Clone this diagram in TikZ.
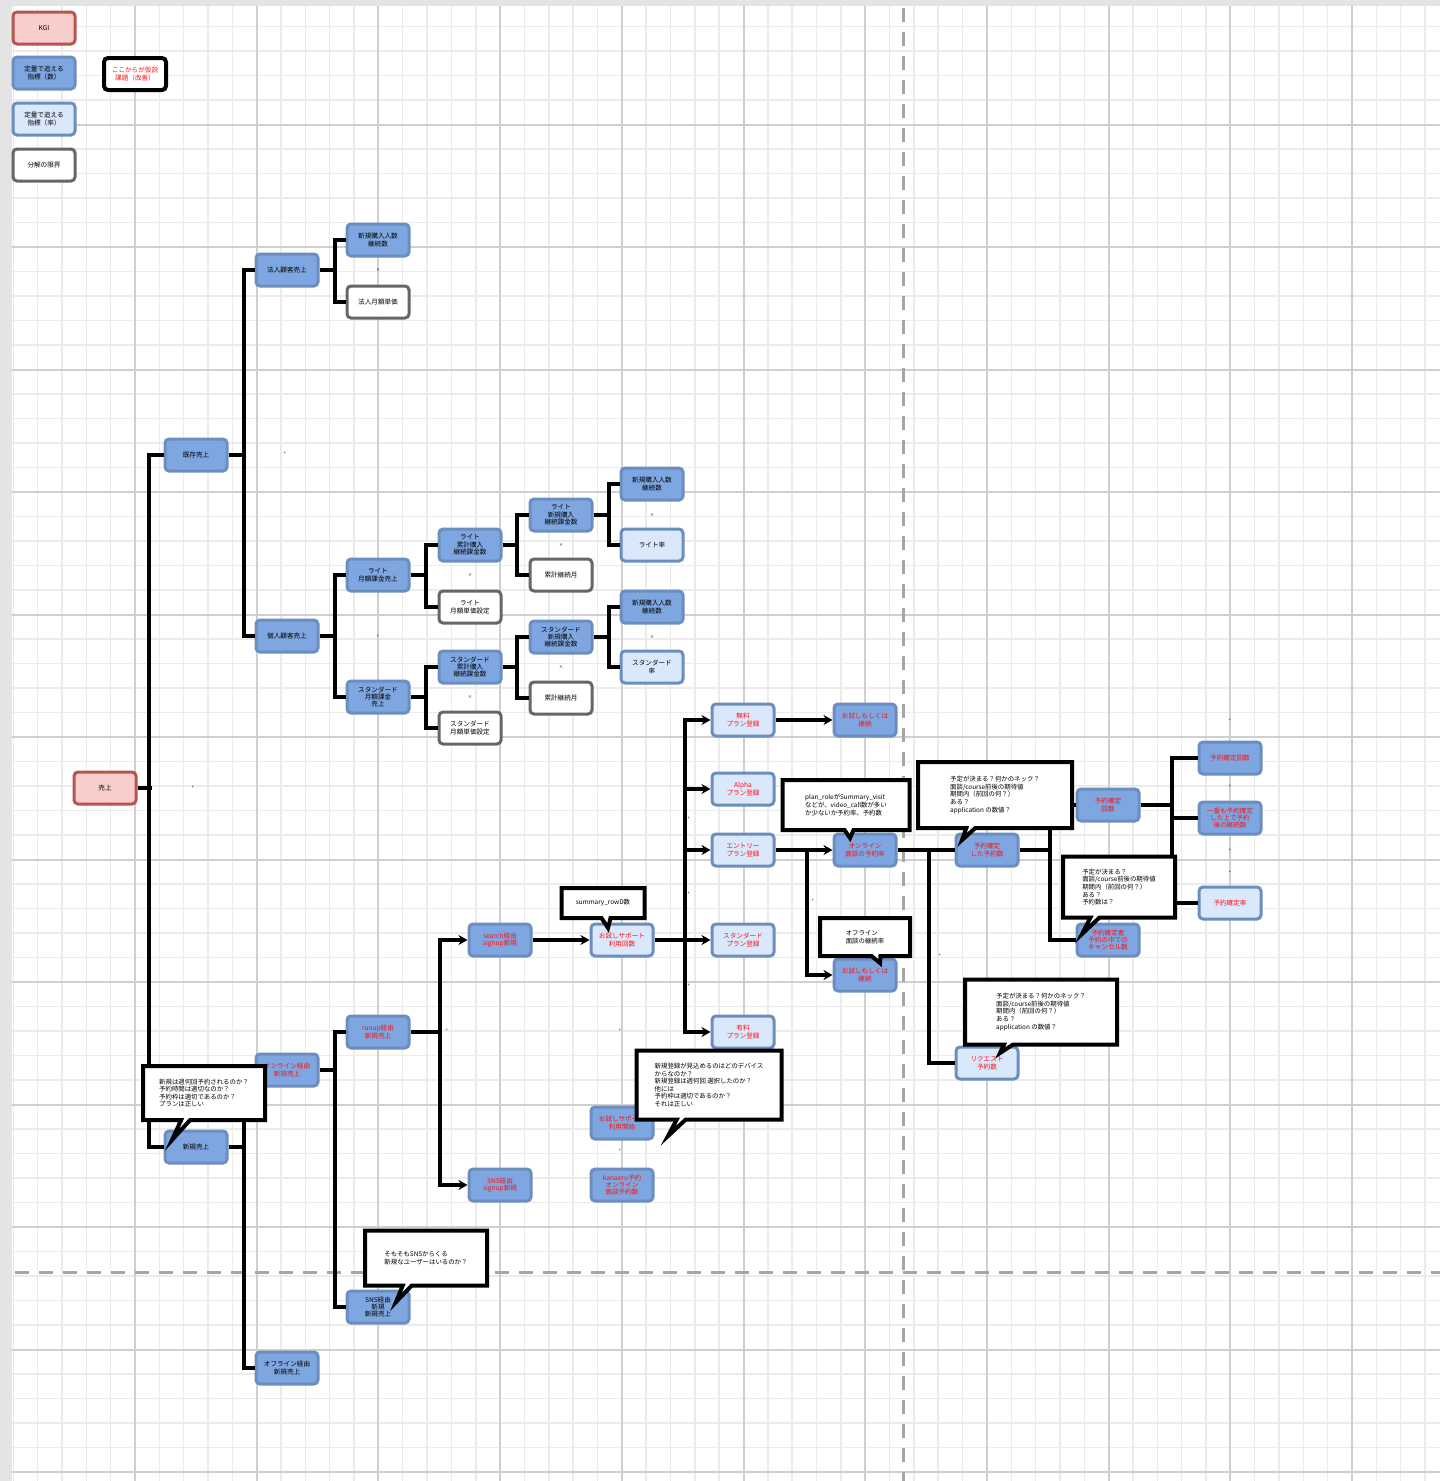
\documentclass[tikz,border=0pt]{standalone}
\usepackage{fontspec}
\setmainfont{Noto Sans CJK JP}
\usetikzlibrary{arrows.meta,shapes.callouts}
\definecolor{kpiblue}{HTML}{7EA6E0}
\definecolor{kpiline}{HTML}{6C8EBF}
\definecolor{ratefill}{HTML}{DAE8FC}
\definecolor{kgifill}{HTML}{F8CECC}
\definecolor{kgiline}{HTML}{B85450}
\definecolor{endline}{HTML}{666666}
\definecolor{hypred}{HTML}{FF1010}
\definecolor{minorgrid}{HTML}{EBEBEB}
\definecolor{majorgrid}{HTML}{CFCFCF}
\definecolor{framegrey}{HTML}{E4E4E4}

\begin{document}
\begin{tikzpicture}[x=1pt,y=-1pt,
    box/.style={rounded corners=4pt,line width=3pt,minimum width=62pt,minimum height=32pt,
      inner sep=1pt,align=center,font=\fontsize{6.6}{7.4}\selectfont},
    kgi/.style={box,fill=kgifill,draw=kgiline},
    cnt/.style={box,fill=kpiblue,draw=kpiline},
    rate/.style={box,fill=ratefill,draw=kpiline},
    endbox/.style={box,fill=white,draw=endline},
    hyp/.style={text=hypred},
    note/.style={rectangle callout,draw=black,fill=white,line width=4pt,align=left,
      inner sep=3pt,callout pointer width=9pt,font=\fontsize{6.4}{7.6}\selectfont},
    link/.style={line width=4pt},
    linkarr/.style={link,-{Stealth[length=9pt,width=10pt]}},
    opmark/.style={font=\fontsize{4}{4}\selectfont,inner sep=0pt}]
  \useasboundingbox (0,0) rectangle (1440,1481);
  \fill[framegrey] (0,0) rectangle (1440,1481);
  \fill[white] (12,6) rectangle (1440,1481);
  \foreach \i in {0,...,58} {
    \draw[minorgrid,line width=1.5pt] ({13.3+24.34*\i},6) -- ({13.3+24.34*\i},1481);
  }
  \foreach \i in {1,...,60} {
    \draw[minorgrid,line width=1.5pt] (12,{2+24.5*\i}) -- (1440,{2+24.5*\i});
  }
  \foreach \i in {0,...,10} {
    \draw[majorgrid,line width=2pt] ({135+121.7*\i},6) -- ({135+121.7*\i},1481);
  }
  \foreach \i in {1,...,12} {
    \draw[majorgrid,line width=2pt] (12,{2+122.5*\i}) -- (1440,{2+122.5*\i});
  }
  \draw[black!35,line width=3pt,dash pattern=on 14pt off 10pt] (903,8) -- (903,1481);
  \draw[black!35,line width=3pt,dash pattern=on 14pt off 10pt] (15,1272) -- (1440,1272);

  % legend
  \node[kgi] (lgkgi) at (44,28) {KGI};
  \node[cnt] (lgcnt) at (44,73) {定量で追える\\指標（数）};
  \node[rate] (lgrate) at (44,119) {定量で追える\\指標（率）};
  \node[endbox] (lgend) at (44,165) {分解の限界};
  \node[box,draw=black,line width=4pt,fill=white,hyp] (lghyp) at (135,74) {ここからが仮説\\課題（改善）};

  % existing sales
  \node[kgi] (sales) at (105,788) {売上};
  \node[cnt] (exist) at (196,455) {既存売上};
  \node[cnt] (corp) at (287,270) {法人顧客売上};
  \node[cnt] (corpnum) at (378,240) {新規購入人数\\継続数};
  \node[endbox] (corpprice) at (378,302) {法人月額単価};
  \node[cnt] (pers) at (287,636) {個人顧客売上};
  \node[cnt] (lite) at (378,575) {ライト\\月額課金売上};
  \node[endbox] (liteprice) at (470,607) {ライト\\月額単価設定};
  \node[cnt] (litesub) at (470,545) {ライト\\累計購入\\継続課金数};
  \node[cnt] (litenew) at (561,515) {ライト\\新規購入\\継続課金数};
  \node[endbox] (litemonth) at (561,575) {累計継続月};
  \node[cnt] (litebuy) at (652,484) {新規購入人数\\継続数};
  \node[rate] (literate) at (652,545) {ライト率};
  \node[cnt] (std) at (378,697) {スタンダード\\月額課金\\売上};
  \node[endbox] (stdprice) at (470,728) {スタンダード\\月額単価設定};
  \node[cnt] (stdsub) at (470,667) {スタンダード\\累計購入\\継続課金数};
  \node[cnt] (stdnew) at (561,637) {スタンダード\\新規購入\\継続課金数};
  \node[endbox] (stdmonth) at (561,698) {累計継続月};
  \node[cnt] (stdbuy) at (652,607) {新規購入人数\\継続数};
  \node[rate] (stdrate) at (652,667) {スタンダード\\率};

  % new sales
  \node[cnt] (fresh) at (196,1147) {新規売上};
  \node[cnt,hyp] (online) at (287,1070) {オンライン経由\\新規売上};
  \node[cnt] (offline) at (287,1368) {オフライン経由\\新規売上};
  \node[cnt,hyp] (runup) at (378,1032) {runup経由\\新規売上};
  \node[cnt] (sns) at (378,1307) {SNS経由\\新規\\新規売上};
  \node[cnt,hyp] (search) at (500,940) {search経由\\signup新規};
  \node[cnt,hyp] (snssign) at (500,1185) {SNS経由\\signup新規};
  \node[rate,hyp] (trial) at (622,940) {お試しサポート\\利用回数};
  \node[cnt,hyp] (trialstart) at (622,1123) {お試しサポート\\利用開始};
  \node[cnt,hyp] (meetcnt) at (622,1185) {kanaeru予約\\オンライン\\面談予約数};
  \node[rate,hyp] (plfree) at (743,720) {無料\\プラン登録};
  \node[rate,hyp] (plalpha) at (743,789) {Alpha\\プラン登録};
  \node[rate,hyp] (plentry) at (743,850) {エントリー\\プラン登録};
  \node[rate,hyp] (plstd) at (743,940) {スタンダード\\プラン登録};
  \node[rate,hyp] (plpaid) at (743,1032) {有料\\プラン登録};
  \node[cnt,hyp] (keep) at (865,720) {お試しもしくは\\継続};
  \node[cnt,hyp] (onmeet) at (865,850) {オンライン\\面談の予約率};
  \node[cnt,hyp] (offmeet) at (865,975) {お試しもしくは\\継続};
  \node[cnt,hyp] (fixed) at (987,850) {予約確定\\した予約数};
  \node[rate,hyp] (request) at (987,1063) {リクエスト\\予約数};
  \node[cnt,hyp] (fixcnt) at (1108,805) {予約確定\\回数};
  \node[cnt,hyp] (cancel) at (1108,940) {予約確定者\\予約の中での\\キャンセル数};
  \node[cnt,hyp] (fixtotal) at (1230,758) {予約確定回数};
  \node[cnt,hyp] (fixkeep) at (1230,818) {一番も予約確定\\した上で予約\\後の継続数};
  \node[rate,hyp] (fixrate) at (1230,903) {予約確定率};

  % connectors
  \draw[link] (sales.east) -- ++(14,0);
  \draw[link] (exist.west) -- ++(-15,0) |- (fresh.west);
  \draw[link] (exist.east) -- ++(15,0) |- (corp.west);
  \draw[link] (exist.east) -- ++(15,0) |- (pers.west);
  \draw[link] (corp.east) -- ++(15,0) |- (corpnum.west);
  \draw[link] (corp.east) -- ++(15,0) |- (corpprice.west);
  \draw[link] (pers.east) -- ++(15,0) |- (lite.west);
  \draw[link] (pers.east) -- ++(15,0) |- (std.west);
  \draw[link] (lite.east) -- ++(15,0) |- (litesub.west);
  \draw[link] (lite.east) -- ++(15,0) |- (liteprice.west);
  \draw[link] (litesub.east) -- ++(14,0) |- (litenew.west);
  \draw[link] (litesub.east) -- ++(14,0) |- (litemonth.west);
  \draw[link] (litenew.east) -- ++(15,0) |- (litebuy.west);
  \draw[link] (litenew.east) -- ++(15,0) |- (literate.west);
  \draw[link] (std.east) -- ++(15,0) |- (stdsub.west);
  \draw[link] (std.east) -- ++(15,0) |- (stdprice.west);
  \draw[link] (stdsub.east) -- ++(14,0) |- (stdnew.west);
  \draw[link] (stdsub.east) -- ++(14,0) |- (stdmonth.west);
  \draw[link] (stdnew.east) -- ++(15,0) |- (stdbuy.west);
  \draw[link] (stdnew.east) -- ++(15,0) |- (stdrate.west);

  \draw[link] (fresh.east) -- ++(15,0) |- (online.west);
  \draw[link] (fresh.east) -- ++(15,0) |- (offline.west);
  \draw[link] (online.east) -- ++(15,0) |- (runup.west);
  \draw[link] (online.east) -- ++(15,0) |- (sns.west);
  \draw[link] (runup.east) -- ++(29,0);
  \draw[linkarr] (runup.east) ++(29,0) |- (search.west);
  \draw[linkarr] (runup.east) ++(29,0) |- (snssign.west);
  \draw[linkarr] (search.east) -- (trial.west);
  \draw[link] (trial.east) -- ++(30,0);
  \foreach \p in {plfree,plalpha,plentry,plstd,plpaid}
    \draw[linkarr] (trial.east) ++(30,0) |- (\p.west);
  \draw[linkarr] (plfree.east) -- (keep.west);
  \draw[linkarr] (plentry.east) -- (onmeet.west);
  \draw[linkarr] (plentry.east) ++(31,0) |- (offmeet.west);
  \draw[link] (onmeet.east) -- (fixed.west);
  \draw[link] (onmeet.east) ++(31,0) |- (request.west);
  \draw[link] (fixed.east) -- ++(30,0) |- (fixcnt.west);
  \draw[link] (fixed.east) -- ++(30,0) |- (cancel.west);
  \draw[link] (fixcnt.east) -- ++(31,0) |- (fixtotal.west);
  \draw[link] (fixcnt.east) -- ++(31,0) |- (fixkeep.west);
  \draw[link] (fixcnt.east) -- ++(31,0) |- (fixrate.west);

  % operators
  \foreach \x/\y/\t in {378/270/×,470/575/×,561/545/×,652/515/×,470/697/×,561/667/×,652/637/×,
      378/636/+,285/453/+,193/787/+,447/1030/+,620/1030/+,620/1150/+,689/818/+,689/893/+,
      689/985/+,813/900/+,940/955/+,1230/720/+,1230/786/+,1230/850/+,1230/872/+}
    \node[opmark] at (\x,\y) {\t};

  % notes
  \node[note,minimum width=122pt,minimum height=54pt,callout absolute pointer={(172,1140)}] (nfresh) at (204,1093)
    {新規は週何回予約されるのか？\\予約時間は適切なのか？\\予約枠は適切であるのか？\\プランは正しい};
  \node[note,minimum width=122pt,minimum height=55pt,callout absolute pointer={(396,1302)}] (nsns) at (426,1258)
    {そもそもSNSからくる\\新規なユーザーはいるのか？};
  \node[note,minimum width=83pt,minimum height=30pt,callout absolute pointer={(608,928)}] (ntrial) at (603,903)
    {summary\_rowD数};
  \node[note,minimum width=145pt,minimum height=69pt,callout absolute pointer={(668,1136)}] (nplan) at (709,1085)
    {新規登録が見込めるのはどのデバイス\\からなのか？\\新規登録は週何回 選択したのか？\\他には\\予約枠は適切であるのか？\\それは正しい};
  \node[note,minimum width=127pt,minimum height=50pt,callout absolute pointer={(850,838)}] (nonline) at (846,805)
    {plan\_roleがSummary\_visit\\などが、video\_call数が多い\\か少ないか予約率、予約数};
  \node[note,minimum width=90pt,minimum height=38pt,callout absolute pointer={(880,963)}] (noffline) at (865,937)
    {オフライン\\面談の継続率};
  \node[note,minimum width=154pt,minimum height=66pt,callout absolute pointer={(962,840)}] (nfixed) at (995,795)
    {予定が決まる？何かのネック？\\面談/course前後の期待値\\期間内（前回の何？）\\ある？\\application の数値？};
  \node[note,minimum width=152pt,minimum height=65pt,callout absolute pointer={(1000,1053)}] (nrequest) at (1041,1012)
    {予定が決まる？何かのネック？\\面談/course前後の期待値\\期間内（前回の何？）\\ある？\\application の数値？};
  \node[note,minimum width=112pt,minimum height=61pt,callout absolute pointer={(1082,934)}] (ncancel) at (1119,887)
    {予定が決まる？\\面談/course前後の期待値\\期間内（前回の何？）\\ある？\\予約数は？};
\end{tikzpicture}
\end{document}
